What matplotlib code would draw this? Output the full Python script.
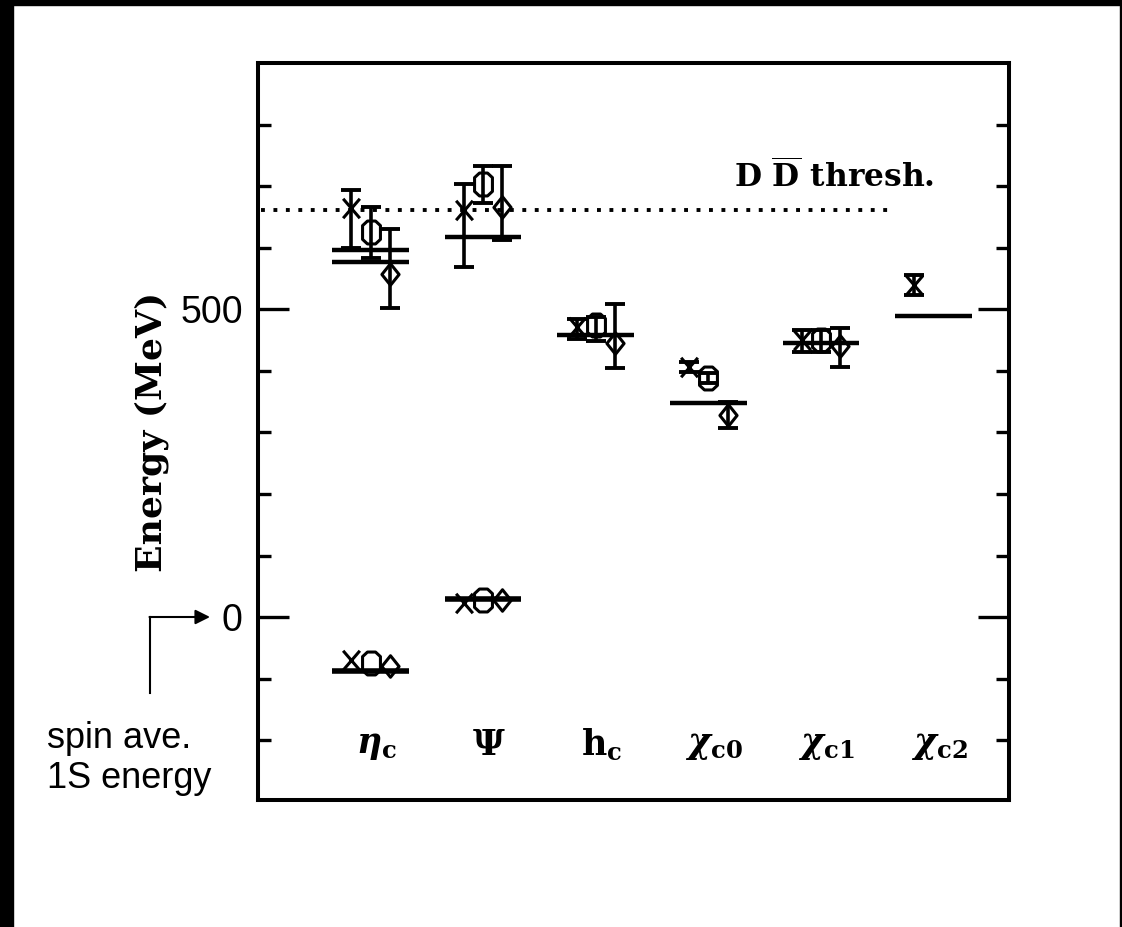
import numpy as np
import matplotlib
matplotlib.use('Agg')
from matplotlib import pyplot as plt
from matplotlib.path import Path
from matplotlib.patches import Rectangle
from matplotlib.lines import Line2D

plt.rcParams['mathtext.fontset'] = 'dejavuserif'

# 态的名字 (x轴标签)
labels = [r'$\boldsymbol{\eta}_\mathbf{c}$', r'$\mathbf{\Psi}$', r'$\mathbf{h_c}$',
          r'$\boldsymbol{\chi}_\mathbf{c0}$', r'$\boldsymbol{\chi}_\mathbf{c1}$',
          r'$\boldsymbol{\chi}_\mathbf{c2}$']

# 实验值 (横线)
exp_cat = [0, 0, 1, 2, 3, 4, 5, 0, 1]
exp_val = [597, 576, 617, 459, 347, 445, 489, -88, 30]

# 三组计算结果
cross_cat = [0, 1, 2, 3, 4, 5, 0, 1]
cross_val = [664, 661, 471, 406, 450, 539, -70, 23]
cross_lo = [65, 93, 20, 8, 20, 16, 0, 0]
cross_hi = [29, 42, 14, 8, 16, 16, 0, 0]

circle_cat = [0, 1, 2, 3, 4, 0, 1]
circle_val = [625, 704, 474, 388, 450, -75, 28]
circle_lo = [42, 31, 26, 8, 20, 0, 0]
circle_hi = [41, 28, 13, 8, 16, 0, 0]

diamond_cat = [0, 1, 2, 3, 4, 0, 1]
diamond_val = [558, 666, 446, 328, 441, -80, 28]
diamond_lo = [56, 54, 42, 21, 35, 0, 0]
diamond_hi = [73, 66, 63, 21, 28, 0, 0]

dd_thresh = 661

# 自定义标记: 瘦长的 x, 八边形, 菱形
xm = Path([(-0.43, -0.5), (0.43, 0.5), (-0.43, 0.5), (0.43, -0.5)],
          [Path.MOVETO, Path.LINETO, Path.MOVETO, Path.LINETO])
a, b = 0.39, 0.5
oct_v = [(-a * 0.45, b), (a * 0.45, b), (a, b * 0.6), (a, -b * 0.6), (a * 0.45, -b),
         (-a * 0.45, -b), (-a, -b * 0.6), (-a, b * 0.6), (-a * 0.45, b)]
om = Path(oct_v, [Path.MOVETO] + [Path.LINETO] * 7 + [Path.CLOSEPOLY])
dm = Path([(0, 0.5), (0.4, 0), (0, -0.5), (-0.4, 0), (0, 0.5)],
          [Path.MOVETO, Path.LINETO, Path.LINETO, Path.LINETO, Path.CLOSEPOLY])


def main():
    fig = plt.figure(figsize=(11.22, 9.27), dpi=100)
    ax = fig.add_axes([258 / 1122, 1 - 800 / 927, 751 / 1122, 737 / 927])
    ax.set_xlim(-1.0, 5.67)
    ax.set_ylim(-297, 900)

    # 实验横线
    for c, v in zip(exp_cat, exp_val):
        lw = 4.0 if v < 100 else 3.2
        ax.plot([c - 0.34, c + 0.34], [v, v], color='black', lw=lw, solid_capstyle='butt')

    # 计算结果 + 误差棒
    for cat, val, lo, hi, mk, ms, off in [
            (cross_cat, cross_val, cross_lo, cross_hi, xm, 14, -0.17),
            (circle_cat, circle_val, circle_lo, circle_hi, om, 16.5, 0.0),
            (diamond_cat, diamond_val, diamond_lo, diamond_hi, dm, 15.5, 0.17)]:
        x = np.array(cat) + off
        y = np.array(val)
        lo = np.array(lo)
        hi = np.array(hi)
        m = (lo + hi) > 0
        ax.errorbar(x[m], y[m], yerr=[lo[m], hi[m]], fmt='none', ecolor='black',
                    elinewidth=2.6, capsize=7, capthick=2.8)
        ax.plot(x, y, ls='none', marker=mk, ms=ms, mfc='none', mec='black', mew=2.2)

    # D Dbar 阈值
    ax.plot([-0.97, 4.61], [dd_thresh, dd_thresh], color='black', lw=2.8,
            dashes=(1, 2.2), dash_capstyle='butt')
    ax.text(3.23, dd_thresh + 25, r'D $\overline{\mathbf{D}}$ thresh.', fontsize=22.5,
            fontweight='bold', family='DejaVu Serif', va='bottom', ha='left')

    # x 标签
    for i, lab in enumerate(labels):
        ax.text(i + 0.05, -208, lab, fontsize=25, ha='center', va='center')

    # 坐标轴
    ax.set_xticks([])
    ax.set_yticks([0, 500])
    ax.set_yticklabels(['0', '500'], family='Liberation Sans', fontsize=27)
    ax.set_yticks(np.arange(-200, 900, 100), minor=True)
    ax.tick_params(axis='y', which='major', direction='in', length=22, width=2.4,
                   right=True, pad=11)
    ax.tick_params(axis='y', which='minor', direction='in', length=9.5, width=2.4,
                   right=True)
    for s in ax.spines.values():
        s.set_linewidth(2.9)

    ax.set_ylabel('Energy (MeV)', family='DejaVu Serif', fontweight='bold', fontsize=26,
                  labelpad=8)

    # 左下角注释
    fig.text(47 / 1122, 1 - 738 / 927, 'spin ave.', family='Liberation Sans', fontsize=26,
             va='center', ha='left')
    fig.text(47 / 1122, 1 - 778 / 927, '1S energy', family='Liberation Sans', fontsize=26,
             va='center', ha='left')
    fig.add_artist(Line2D([150 / 1122, 150 / 1122], [1 - 693 / 927, 1 - 617 / 927],
                          color='black', lw=1.5))
    ax.annotate('', xy=(210 / 1122, 1 - 617 / 927), xycoords='figure fraction',
                xytext=(149.5 / 1122, 1 - 617 / 927), textcoords='figure fraction',
                arrowprops=dict(arrowstyle='-|>', mutation_scale=22, lw=1.5, color='black',
                                shrinkA=0, shrinkB=0))

    # 图片黑边
    fig.patches.append(Rectangle((0, 0), 13 / 1122, 1, transform=fig.transFigure,
                                 color='black'))
    fig.patches.append(Rectangle((0, 1 - 5 / 927), 1, 5 / 927, transform=fig.transFigure,
                                 color='black'))
    fig.patches.append(Rectangle((1 - 2 / 1122, 0), 2 / 1122, 1, transform=fig.transFigure,
                                 color='black'))

    plt.savefig('out.png', dpi=100)


if __name__ == '__main__':
    main()
